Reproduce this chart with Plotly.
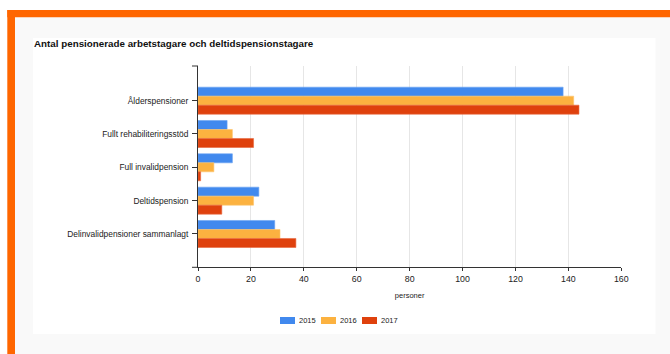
import plotly.graph_objects as go

W, H = 670, 354

categories = ["Ålderspensioner", "Fullt rehabiliteringsstöd", "Full invalidpension",
              "Deltidspension", "Delinvalidpensioner sammanlagt"]
years = ["2015", "2016", "2017"]
v2015 = [138, 11, 13, 23, 29]
v2016 = [142, 13, 6, 21, 31]
v2017 = [144, 21, 1, 9, 37]
colors = ["#4189ee", "#fcb240", "#df410d"]
edge = ["#6aa3f2", "#fdc46c", "#e8683e"]

title = "Antal pensionerade arbetstagare och deltidspensionstagare"
x_title = "personer"

def px(x):
    return x / W

def py(y):
    return 1 - y / H

fig = go.Figure()
for name, vals, c, e in zip(years, [v2015, v2016, v2017], colors, edge):
    fig.add_trace(go.Bar(
        y=categories, x=vals, name=name, orientation="h",
        marker=dict(color=c, line=dict(color=e, width=0.6)),
        showlegend=False,
    ))

shapes = []
# background frame
shapes.append(dict(type="rect", xref="paper", yref="paper", x0=px(15), x1=px(670), y0=py(354), y1=py(17.3),
                   fillcolor="#f9f9f9", line=dict(width=0), layer="below"))
shapes.append(dict(type="rect", xref="paper", yref="paper", x0=px(33), x1=px(655.5), y0=py(334), y1=py(38),
                   fillcolor="#ffffff", line=dict(width=0), layer="below"))
shapes.append(dict(type="rect", xref="paper", yref="paper", x0=px(7.3), x1=px(670), y0=py(17.3), y1=py(10),
                   fillcolor="#ff6600", line=dict(width=0), layer="below"))
shapes.append(dict(type="rect", xref="paper", yref="paper", x0=px(7.3), x1=px(15), y0=py(354), y1=py(10),
                   fillcolor="#ff6600", line=dict(width=0), layer="below"))
# boundary ticks on y axis
for yy in (0, 1):
    shapes.append(dict(type="line", xref="x domain", yref="y domain", x0=-6 / 423, x1=0, y0=yy, y1=yy,
                       line=dict(color="#333333", width=1)))

annotations = [dict(text="<b>" + title + "</b>", x=px(32), y=py(43), xref="paper", yref="paper",
                    xanchor="left", yanchor="middle", showarrow=False,
                    font=dict(family="Liberation Sans, Arial", size=9.8, color="#111111"))]

# manual legend
leg_x = [280, 321, 362]
for lx, name, c in zip(leg_x, years, colors):
    shapes.append(dict(type="rect", xref="paper", yref="paper", x0=px(lx), x1=px(lx + 15),
                       y0=py(324), y1=py(317), fillcolor=c, line=dict(width=0)))
    annotations.append(dict(text=name, x=px(lx + 17), y=py(320.5), xref="paper", yref="paper",
                            xanchor="left", yanchor="middle", showarrow=False,
                            font=dict(family="Liberation Sans, Arial", size=7.5, color="#222222")))

fig.update_layout(
    width=W, height=H,
    margin=dict(l=0, r=0, t=0, b=0),
    paper_bgcolor="#ffffff", plot_bgcolor="#ffffff",
    barmode="group", bargap=0.19, bargroupgap=0,
    showlegend=False,
    shapes=shapes, annotations=annotations,
    font=dict(family="Liberation Sans, Arial", color="#222222"),
    xaxis=dict(domain=[px(198), px(621.3)], range=[0, 160], dtick=20, tick0=0,
               showgrid=True, gridcolor="#e6e6e6", gridwidth=1,
               showline=True, linecolor="#333333", linewidth=1,
               ticks="outside", ticklen=3, tickcolor="#333333",
               zeroline=False, tickfont=dict(size=8.8, color="#222222"),
               title=dict(text=x_title, font=dict(size=7.5, color="#222222"), standoff=9),
               automargin=False, fixedrange=True),
    yaxis=dict(domain=[py(267.3), py(66)], range=[5.0, -1.04],
               showline=True, linecolor="#333333", linewidth=1,
               ticks="outside", ticklen=5, tickcolor="#333333",
               showgrid=False, zeroline=False,
               tickfont=dict(size=8.4, color="#222222"), ticklabelstandoff=2,
               automargin=False, fixedrange=True),
)

fig.write_html("out.html", config={"displayModeBar": False})
